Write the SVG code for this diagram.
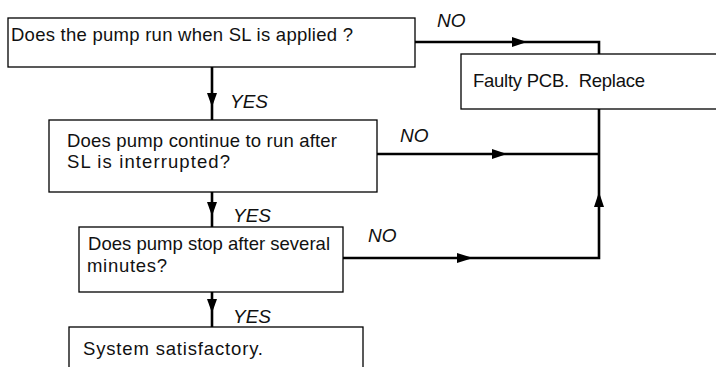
<svg xmlns="http://www.w3.org/2000/svg" width="716" height="367" viewBox="0 0 716 367">
<style>
.box{fill:#fff;stroke:#000;stroke-width:1.3}
.t{font-family:"Liberation Sans",Arial,sans-serif;font-size:18.5px;fill:#111}
.lbl{font-family:"Liberation Sans",Arial,sans-serif;font-size:19px;font-style:italic;fill:#111}
.ln{fill:none;stroke:#000;stroke-width:2.6}
.ah{fill:#000}
</style>
<rect width="716" height="367" fill="#fff"/>
<g id="connectors">
<path class="ln" d="M212,67 V120"/>
<path class="ah" d="M207,93 L217,93 L212,107 Z"/>
<path class="ln" d="M212,192 V227"/>
<path class="ah" d="M207,202 L217,202 L212,216 Z"/>
<path class="ln" d="M212,292 V327"/>
<path class="ah" d="M207,299 L217,299 L212,313 Z"/>
<path class="ln" d="M415,42 H599 V54"/>
<path class="ah" d="M512,37 L512,47 L527,42 Z"/>
<path class="ln" d="M377,154 H599"/>
<path class="ah" d="M492,149 L492,159 L507,154 Z"/>
<path class="ln" d="M343,258 H599 V109"/>
<path class="ah" d="M457,253 L457,263 L473,258 Z"/>
<path class="ah" d="M594,207 L604,207 L599,192 Z"/>
</g>
<g id="n1">
<rect class="box" x="8" y="18" width="407" height="49"/>
<text class="t" x="11" y="41" textLength="342">Does the pump run when SL is applied ?</text>
</g>
<g id="n2">
<rect class="box" x="49" y="120" width="328" height="72"/>
<text class="t" x="67" y="147" textLength="270">Does pump continue to run after</text>
<text class="t" x="67" y="168" textLength="163">SL is interrupted?</text>
</g>
<g id="n3">
<rect class="box" x="79" y="227" width="264" height="65"/>
<text class="t" x="88" y="250" textLength="242">Does pump stop after several</text>
<text class="t" x="87" y="272" textLength="80">minutes?</text>
</g>
<g id="n4">
<rect class="box" x="69" y="327" width="294" height="60"/>
<text class="t" x="83" y="355" textLength="180">System satisfactory.</text>
</g>
<g id="n5">
<rect class="box" x="461" y="54" width="270" height="55"/>
<text class="t" x="473" y="87" textLength="172" xml:space="preserve">Faulty PCB.  Replace</text>
</g>
<g id="labels">
<text class="lbl" x="230" y="108">YES</text>
<text class="lbl" x="233" y="222">YES</text>
<text class="lbl" x="233" y="323">YES</text>
<text class="lbl" x="437" y="27">NO</text>
<text class="lbl" x="400" y="142">NO</text>
<text class="lbl" x="368" y="242">NO</text>
</g>
</svg>
